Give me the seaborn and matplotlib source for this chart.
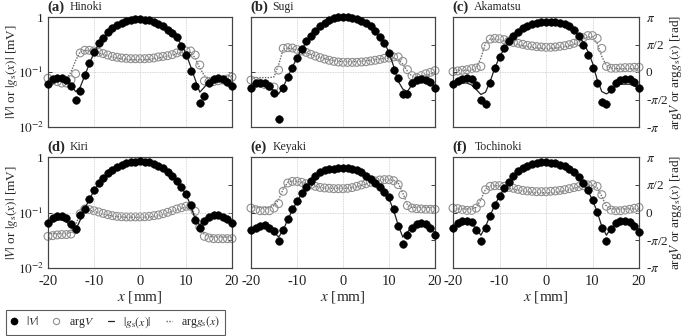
import numpy as np
import pandas as pd
import matplotlib
matplotlib.use("Agg")
import matplotlib.pyplot as plt
import seaborn as sns
from matplotlib.lines import Line2D
from matplotlib.ticker import NullLocator

# ---------------- data ----------------
x_mm = list(range(-20, 21))
panel_tags = ["(a)", "(b)", "(c)", "(d)", "(e)", "(f)"]
panel_names = ["Hinoki", "Sugi", "Akamatsu", "Kiri", "Keyaki", "Tochinoki"]

# |V| measured [mV]
absV_a = [0.060,0.074,0.077,0.077,0.072,0.055,0.031,0.045,0.088,0.144,0.228,0.332,0.421,0.534,0.622,0.706,0.778,0.846,0.882,0.907,0.907,0.894,0.870,0.823,0.757,0.677,0.589,0.512,0.433,0.300,0.207,0.104,0.055,0.027,0.037,0.062,0.074,0.079,0.075,0.067,0.055]
absV_b = [0.052,0.062,0.064,0.062,0.056,0.041,0.014,0.052,0.081,0.118,0.180,0.262,0.361,0.458,0.564,0.677,0.778,0.870,0.946,0.986,0.99,0.99,0.972,0.920,0.858,0.778,0.677,0.549,0.433,0.337,0.222,0.110,0.078,0.039,0.039,0.063,0.071,0.075,0.073,0.065,0.051]
absV_c = [0.060,0.069,0.076,0.079,0.076,0.058,0.031,0.026,0.063,0.116,0.188,0.269,0.361,0.458,0.541,0.622,0.696,0.746,0.778,0.800,0.811,0.811,0.800,0.778,0.736,0.677,0.589,0.445,0.314,0.207,0.118,0.063,0.028,0.026,0.049,0.063,0.073,0.076,0.075,0.067,0.052]
absV_d = [0.065,0.081,0.087,0.087,0.080,0.063,0.051,0.089,0.118,0.172,0.255,0.337,0.421,0.505,0.589,0.667,0.726,0.778,0.811,0.823,0.834,0.823,0.800,0.757,0.696,0.622,0.541,0.458,0.376,0.293,0.215,0.136,0.073,0.053,0.070,0.083,0.089,0.089,0.083,0.075,0.065]
absV_e = [0.048,0.053,0.058,0.059,0.053,0.046,0.031,0.049,0.075,0.114,0.163,0.222,0.293,0.376,0.458,0.526,0.572,0.597,0.614,0.622,0.622,0.622,0.605,0.572,0.526,0.458,0.398,0.337,0.285,0.234,0.188,0.118,0.056,0.027,0.039,0.053,0.061,0.065,0.063,0.053,0.039]
absV_f = [0.053,0.066,0.071,0.071,0.067,0.049,0.031,0.053,0.086,0.136,0.201,0.273,0.361,0.458,0.549,0.631,0.696,0.746,0.778,0.800,0.800,0.789,0.767,0.726,0.677,0.605,0.526,0.445,0.346,0.255,0.168,0.103,0.053,0.031,0.051,0.066,0.071,0.071,0.067,0.056,0.044]

# |g_s(x)| model [mV]
absG_a = [0.061,0.069,0.073,0.073,0.069,0.058,0.044,0.053,0.086,0.142,0.222,0.320,0.409,0.505,0.580,0.649,0.706,0.757,0.800,0.823,0.834,0.823,0.800,0.767,0.715,0.649,0.572,0.498,0.415,0.314,0.215,0.127,0.073,0.043,0.053,0.068,0.075,0.077,0.075,0.069,0.061]
absG_b = [0.053,0.060,0.060,0.058,0.053,0.046,0.040,0.053,0.081,0.123,0.180,0.255,0.346,0.433,0.526,0.622,0.706,0.778,0.834,0.870,0.894,0.894,0.870,0.834,0.778,0.706,0.622,0.526,0.433,0.337,0.228,0.127,0.068,0.049,0.044,0.059,0.068,0.073,0.073,0.067,0.056]
absG_c = [0.055,0.061,0.063,0.063,0.058,0.048,0.039,0.043,0.068,0.118,0.188,0.262,0.346,0.433,0.512,0.589,0.658,0.706,0.736,0.757,0.767,0.767,0.757,0.736,0.696,0.640,0.564,0.458,0.346,0.238,0.146,0.073,0.044,0.040,0.045,0.055,0.060,0.060,0.060,0.056,0.051]
absG_d = [0.056,0.068,0.073,0.073,0.068,0.056,0.048,0.073,0.118,0.172,0.248,0.327,0.409,0.491,0.572,0.640,0.696,0.746,0.778,0.789,0.800,0.789,0.767,0.726,0.677,0.605,0.526,0.445,0.366,0.285,0.210,0.136,0.075,0.059,0.073,0.083,0.086,0.086,0.081,0.075,0.068]
absG_e = [0.049,0.056,0.060,0.060,0.055,0.044,0.036,0.048,0.075,0.110,0.159,0.215,0.285,0.361,0.439,0.505,0.556,0.589,0.605,0.614,0.614,0.605,0.589,0.556,0.512,0.451,0.393,0.332,0.277,0.228,0.177,0.110,0.059,0.036,0.044,0.056,0.063,0.066,0.063,0.055,0.043]
absG_f = [0.053,0.063,0.068,0.068,0.063,0.051,0.039,0.056,0.089,0.136,0.198,0.265,0.346,0.433,0.519,0.597,0.658,0.706,0.736,0.757,0.757,0.746,0.726,0.687,0.640,0.572,0.498,0.421,0.337,0.248,0.168,0.103,0.056,0.039,0.053,0.063,0.068,0.068,0.065,0.058,0.049]

# arg V measured [rad]
argV_a = [-0.36,-0.48,-0.55,-0.63,-0.63,-0.44,-0.10,1.09,1.24,1.24,1.20,1.12,1.05,0.97,0.89,0.84,0.80,0.78,0.76,0.76,0.76,0.76,0.78,0.80,0.86,0.89,0.93,0.99,1.09,1.16,1.20,1.20,0.97,0.40,-0.51,-0.55,-0.55,-0.50,-0.46,-0.40,-0.29]
argV_b = [-0.46,-0.53,-0.63,-0.72,-0.82,-0.86,0.11,1.35,1.39,1.37,1.29,1.20,1.12,1.01,0.91,0.82,0.74,0.67,0.61,0.57,0.55,0.55,0.55,0.55,0.57,0.59,0.63,0.67,0.72,0.78,0.80,0.86,0.86,0.61,0.13,-0.21,-0.32,-0.21,-0.10,-0.02,0.08]
argV_c = [0.02,0.06,0.10,0.13,0.19,0.23,0.32,1.47,1.88,1.92,1.90,1.85,1.77,1.69,1.64,1.58,1.52,1.49,1.45,1.43,1.41,1.41,1.43,1.47,1.50,1.56,1.64,1.73,1.96,2.08,2.08,1.92,1.35,0.32,0.21,0.21,0.23,0.25,0.25,0.27,0.27]
argV_d = [-1.35,-1.31,-1.27,-1.25,-1.25,-1.22,-0.97,-0.07,0.20,0.16,0.10,0.03,-0.05,-0.12,-0.18,-0.22,-0.24,-0.25,-0.25,-0.25,-0.25,-0.24,-0.22,-0.18,-0.14,-0.07,0.01,0.10,0.20,0.27,0.35,0.35,0.07,-0.82,-1.35,-1.44,-1.48,-1.48,-1.48,-1.48,-1.48]
argV_e = [0.25,0.16,0.10,0.10,0.10,0.25,0.50,1.20,1.67,1.76,1.76,1.71,1.63,1.56,1.48,1.42,1.39,1.37,1.35,1.35,1.35,1.37,1.41,1.48,1.56,1.63,1.71,1.78,1.84,1.86,1.86,1.80,1.58,1.01,0.39,0.25,0.22,0.20,0.18,0.18,0.18]
argV_f = [0.25,0.22,0.16,0.12,0.12,0.25,0.54,1.29,1.48,1.52,1.52,1.48,1.42,1.37,1.31,1.25,1.22,1.20,1.18,1.18,1.18,1.20,1.22,1.25,1.29,1.35,1.41,1.46,1.52,1.56,1.58,1.48,1.01,0.35,0.14,0.10,0.10,0.14,0.18,0.24,0.29]

# arg g_s(x) model [rad]
argG_a = [-0.40,-0.42,-0.44,-0.44,-0.42,0.00,0.65,1.15,1.24,1.22,1.16,1.09,1.01,0.93,0.86,0.80,0.76,0.72,0.70,0.70,0.70,0.70,0.72,0.76,0.80,0.86,0.91,0.97,1.05,1.12,1.16,1.12,0.80,0.23,-0.21,-0.36,-0.36,-0.32,-0.29,-0.25,-0.21]
argG_b = [-0.32,-0.32,-0.32,-0.32,-0.32,-0.28,0.40,1.31,1.37,1.33,1.26,1.18,1.09,1.00,0.91,0.84,0.76,0.70,0.65,0.61,0.59,0.59,0.59,0.59,0.61,0.63,0.67,0.70,0.74,0.78,0.80,0.80,0.70,0.45,0.05,-0.25,-0.30,-0.25,-0.18,-0.12,-0.06]
argG_c = [0.10,0.10,0.10,0.10,0.10,0.23,0.80,1.66,1.88,1.88,1.85,1.77,1.69,1.62,1.56,1.50,1.45,1.41,1.37,1.35,1.35,1.35,1.37,1.41,1.45,1.50,1.58,1.69,1.88,2.00,2.00,1.64,0.89,0.36,0.21,0.19,0.19,0.19,0.19,0.19,0.19]
argG_d = [-1.20,-1.20,-1.20,-1.20,-1.20,-1.12,-0.69,-0.07,0.12,0.12,0.07,-0.01,-0.08,-0.14,-0.20,-0.24,-0.25,-0.27,-0.27,-0.27,-0.27,-0.27,-0.25,-0.22,-0.18,-0.10,-0.03,0.07,0.16,0.24,0.29,0.25,-0.12,-0.88,-1.25,-1.35,-1.39,-1.39,-1.39,-1.39,-1.39]
argG_e = [0.29,0.29,0.29,0.29,0.29,0.39,0.73,1.33,1.71,1.78,1.76,1.71,1.63,1.56,1.48,1.42,1.39,1.37,1.37,1.37,1.37,1.37,1.41,1.46,1.54,1.61,1.69,1.76,1.82,1.86,1.86,1.82,1.67,1.10,0.44,0.29,0.29,0.29,0.29,0.29,0.29]
argG_f = [0.20,0.20,0.20,0.20,0.20,0.29,0.73,1.33,1.50,1.52,1.50,1.44,1.39,1.33,1.27,1.22,1.18,1.14,1.12,1.12,1.12,1.12,1.14,1.18,1.24,1.29,1.37,1.44,1.50,1.54,1.54,1.39,0.92,0.35,0.20,0.20,0.20,0.20,0.20,0.20,0.20]

absV_all = [absV_a, absV_b, absV_c, absV_d, absV_e, absV_f]
absG_all = [absG_a, absG_b, absG_c, absG_d, absG_e, absG_f]
argV_all = [argV_a, argV_b, argV_c, argV_d, argV_e, argV_f]
argG_all = [argG_a, argG_b, argG_c, argG_d, argG_e, argG_f]

xticks = [-20, -10, 0, 10, 20]
mag_ticks = [1, 0.1, 0.01]
mag_ticklabels = ["1", r"$10^{-1}$", r"$10^{-2}$"]
phase_ticks = [-np.pi, -np.pi / 2, 0, np.pi / 2, np.pi]
phase_ticklabels = [r"-$\pi$", r"-$\pi$/2", "0", r"$\pi$/2", r"$\pi$"]

# ---------------- style ----------------
sns.set_style("white")
plt.rcParams["font.family"] = ["Liberation Serif", "DejaVu Serif"]
plt.rcParams["mathtext.fontset"] = "stix"
plt.rcParams["axes.unicode_minus"] = False

W, H = 685, 336
fig = plt.figure(figsize=(W / 100, H / 100), dpi=100)

boxes = [(48, 17, 232, 127), (251, 17, 435, 127), (453, 17, 639, 127),
         (48, 157, 232, 268), (251, 157, 435, 268), (453, 157, 639, 268)]

FILL = "black"
OPEN = "#8f8f8f"
tick_fs = 9.5

for i, (l, t, r, b) in enumerate(boxes):
    ax = fig.add_axes([l / W, 1 - b / H, (r - l) / W, (b - t) / H])
    ax2 = ax.twinx()
    df = pd.DataFrame({"x": x_mm, "absV": absV_all[i], "absG": absG_all[i],
                       "argV": argV_all[i], "argG": argG_all[i]})

    # phase (right axis)
    sns.lineplot(data=df, x="x", y="argG", ax=ax2, color="#666666", lw=1.0,
                 linestyle=(0, (1, 1)), sort=False, estimator=None, zorder=2)
    sns.scatterplot(data=df, x="x", y="argV", ax=ax2, facecolor="none",
                    edgecolor=OPEN, linewidth=0.8, s=32, color=OPEN,
                    legend=False, zorder=3, clip_on=False)
    # magnitude (left axis, log)
    ax.set_yscale("log")
    sns.lineplot(data=df, x="x", y="absG", ax=ax, color="#222222", lw=0.9,
                 sort=False, estimator=None, zorder=2)
    sns.scatterplot(data=df, x="x", y="absV", ax=ax, color=FILL,
                    edgecolor=FILL, linewidth=0.4, s=30, legend=False,
                    zorder=3, clip_on=False)

    ax.set_zorder(ax2.get_zorder() + 1)
    ax.patch.set_visible(False)

    ax.set_xlim(-20, 20)
    ax.set_ylim(0.01, 1)
    ax2.set_ylim(-np.pi, np.pi)
    ax.set_xticks(xticks)
    ax.set_yticks(mag_ticks)
    ax.yaxis.set_minor_locator(NullLocator())
    ax2.set_yticks(phase_ticks)
    ax.grid(True, which="major", color="#c8c8c8", linestyle=(0, (1, 1)), lw=0.6)
    ax.set_axisbelow(True)
    ax2.grid(False)

    ax.tick_params(axis="y", direction="in", length=3, width=0.6,
                   labelsize=tick_fs, colors="#222222", pad=3)
    ax.tick_params(axis="x", direction="in", length=3, width=0.6,
                   labelsize=10.5, colors="#222222", pad=5)
    ax2.tick_params(axis="y", direction="in", length=3, width=0.6,
                    labelsize=tick_fs, colors="#222222", pad=5)
    for sp in list(ax.spines.values()) + list(ax2.spines.values()):
        sp.set_color("#444444")
        sp.set_linewidth(0.8)

    col = i % 3
    row = i // 3
    if col == 0:
        ax.set_yticklabels(mag_ticklabels)
        ax.set_ylabel(r"$|V|$ or $|g_\mathrm{s}(x)|$ [mV]", fontsize=9.5)
        ax.yaxis.set_label_coords(-0.15, 0.5)
    else:
        ax.set_yticklabels([])
        ax.set_ylabel("")
    if col == 2:
        ax2.set_yticklabels(phase_ticklabels)
        ax2.set_ylabel(r"arg$V$ or arg$g_\mathrm{s}(x)$ [rad]", fontsize=9.5)
        ax2.yaxis.set_label_coords(1.155, 0.5)
    else:
        ax2.set_yticklabels([])
        ax2.set_ylabel("")
    if row == 1:
        ax.set_xticklabels([str(v) for v in xticks])
        ax.set_xlabel(r"$x$ [mm]", fontsize=11, labelpad=1)
    else:
        ax.set_xticklabels([])
        ax.set_xlabel("")

    ax.text(-0.005, 1.03, panel_tags[i], transform=ax.transAxes,
            fontsize=10.5, fontweight="bold", va="bottom", ha="left")
    ax.text(0.115, 1.035, panel_names[i], transform=ax.transAxes,
            fontsize=8.5, va="bottom", ha="left")

handles = [
    Line2D([], [], marker="o", color="black", ls="none", markersize=4.5),
    Line2D([], [], marker="o", markerfacecolor="none", markeredgecolor=OPEN,
           ls="none", markersize=4.5, markeredgewidth=0.8),
    Line2D([], [], color="#222222", lw=0.9),
    Line2D([], [], color="#666666", lw=1.0, linestyle=(0, (1, 1))),
]
labels = [r"$|V|$", r"arg$V$", r"$|g_\mathrm{s}(x)|$", r"arg$g_\mathrm{s}(x)$"]
leg = fig.legend(handles, labels, loc="lower left",
                 bbox_to_anchor=(6 / W, 1 / H), ncol=4, fontsize=8.5,
                 frameon=True, fancybox=False, edgecolor="#333333",
                 handlelength=0.5, handletextpad=0.8, columnspacing=1.2,
                 borderpad=0.4, borderaxespad=0)
leg.get_frame().set_linewidth(0.8)

fig.savefig("out.png", dpi=100)
